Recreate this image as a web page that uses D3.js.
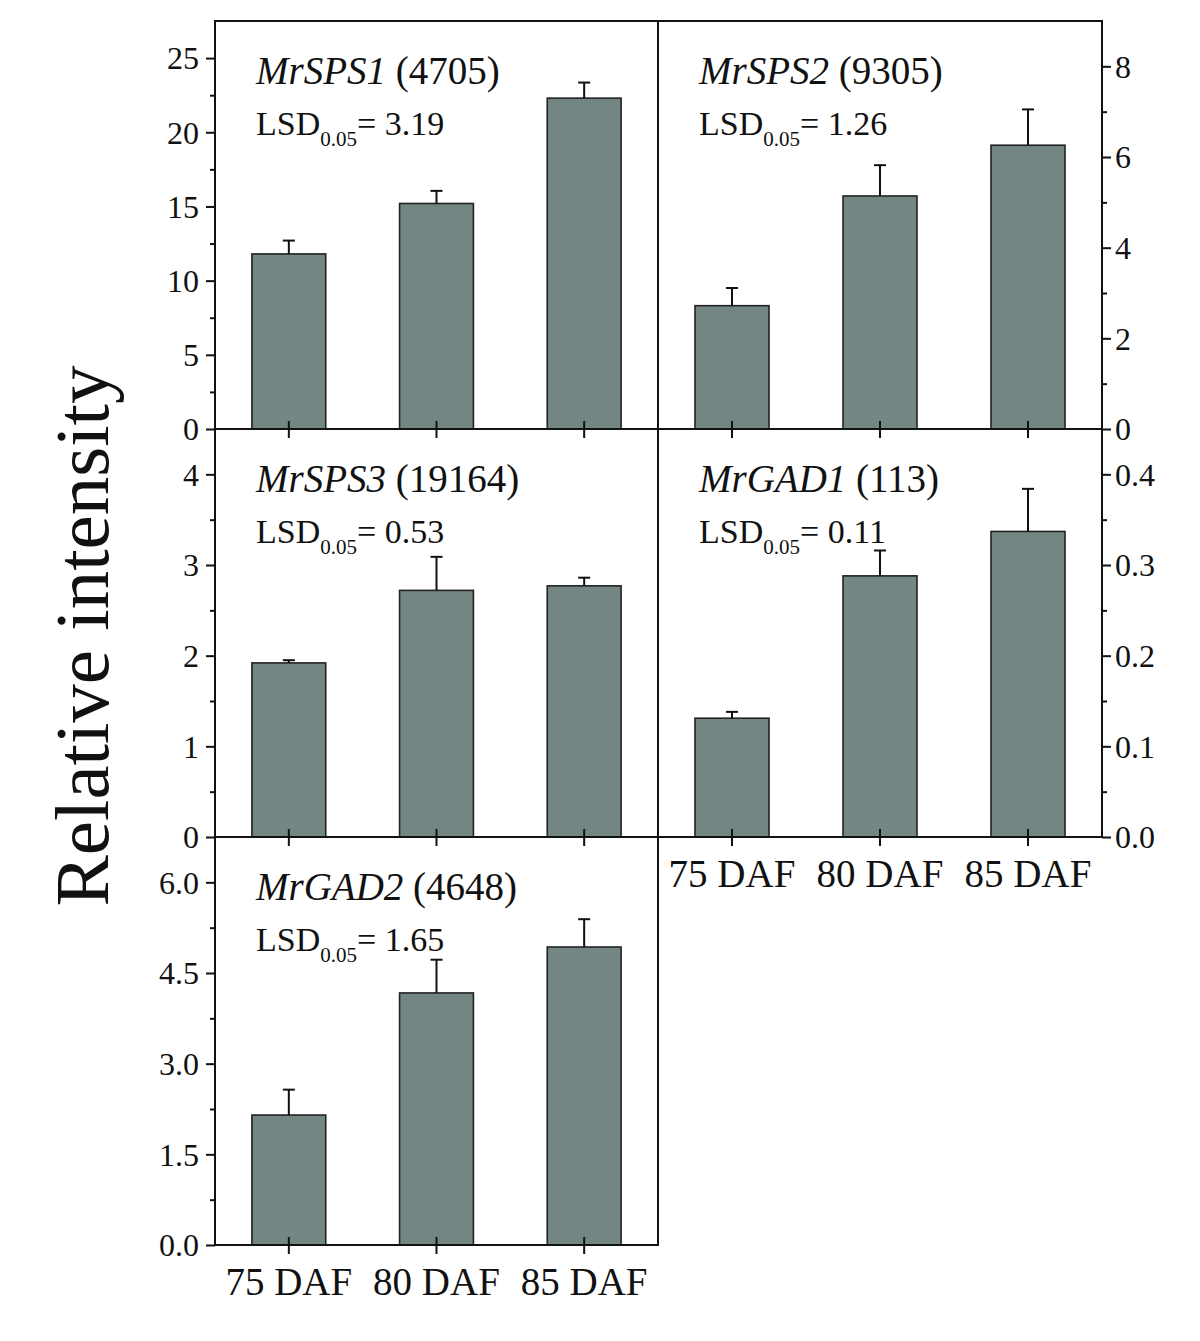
<!DOCTYPE html>
<html>
<head>
<meta charset="utf-8">
<script src="https://cdn.jsdelivr.net/npm/d3@7"></script>
<style>
  html, body { margin: 0; padding: 0; background: #fff; }
  svg text { font-family: "Liberation Serif", "Times New Roman", serif; fill: #111; }
</style>
</head>
<body>
<svg id="chart" width="1200" height="1341"></svg>
<script>
// ---- data ----
const categories = ["75 DAF", "80 DAF", "85 DAF"];
const genes = ["MrSPS1", "MrSPS2", "MrSPS3", "MrGAD1", "MrGAD2"];
const geneIds = ["4705", "9305", "19164", "113", "4648"];
const lsdValues = ["3.19", "1.26", "0.53", "0.11", "1.65"];

const sps1Mean = [11.8, 15.2, 22.3];
const sps1Err  = [0.9, 0.85, 1.05];
const sps2Mean = [2.72, 5.14, 6.26];
const sps2Err  = [0.39, 0.68, 0.79];
const sps3Mean = [1.92, 2.72, 2.77];
const sps3Err  = [0.03, 0.37, 0.09];
const gad1Mean = [0.131, 0.288, 0.337];
const gad1Err  = [0.007, 0.028, 0.047];
const gad2Mean = [2.15, 4.17, 4.93];
const gad2Err  = [0.42, 0.55, 0.46];

const yMaxes = [27.5, 9, 4.5, 0.45, 6.75];
const majorTicks = [
  [0, 5, 10, 15, 20, 25],
  [0, 2, 4, 6, 8],
  [0, 1, 2, 3, 4],
  [0, 0.1, 0.2, 0.3, 0.4],
  [0, 1.5, 3.0, 4.5, 6.0]
];
const minorTicks = [
  [2.5, 7.5, 12.5, 17.5, 22.5],
  [1, 3, 5, 7],
  [0.5, 1.5, 2.5, 3.5],
  [0.05, 0.15, 0.25, 0.35],
  [0.75, 2.25, 3.75, 5.25]
];
const tickFormats = [d3.format("d"), d3.format("d"), d3.format("d"), d3.format(".1f"), d3.format(".1f")];
const yLabel = "Relative intensity";

const means = [sps1Mean, sps2Mean, sps3Mean, gad1Mean, gad2Mean];
const errs  = [sps1Err, sps2Err, sps3Err, gad1Err, gad2Err];

// ---- layout ----
const colX = [[215, 658], [658, 1102]];
const rowY = [[21, 429], [429, 837], [837, 1245]];
const panels = [
  {col: 0, row: 0, side: "left",  xLabels: false},
  {col: 1, row: 0, side: "right", xLabels: false},
  {col: 0, row: 1, side: "left",  xLabels: false},
  {col: 1, row: 1, side: "right", xLabels: true},
  {col: 0, row: 2, side: "left",  xLabels: true}
];

const svg = d3.select("#chart");
const ink = "#111";
const barFill = "#748684";

panels.forEach((p, i) => {
  const [x0, x1] = colX[p.col];
  const [y0, y1] = rowY[p.row];
  const g = svg.append("g");

  const x = d3.scaleBand().domain(categories).range([x0, x1]).paddingInner(0.5).paddingOuter(0.25);
  const y = d3.scaleLinear().domain([0, yMaxes[i]]).range([y1, y0]);

  const data = categories.map((c, k) => ({c, v: means[i][k], e: errs[i][k]}));

  // bars
  g.selectAll("rect.bar").data(data).join("rect")
    .attr("class", "bar")
    .attr("x", d => x(d.c))
    .attr("y", d => y(d.v))
    .attr("width", x.bandwidth())
    .attr("height", d => y(0) - y(d.v))
    .attr("fill", barFill)
    .attr("stroke", "#222")
    .attr("stroke-width", 1.6);

  // error bars (upper only)
  const cx = d => x(d.c) + x.bandwidth() / 2;
  g.selectAll("line.err").data(data).join("line")
    .attr("x1", cx).attr("x2", cx)
    .attr("y1", d => y(d.v)).attr("y2", d => y(d.v + d.e))
    .attr("stroke", ink).attr("stroke-width", 2);
  g.selectAll("line.cap").data(data).join("line")
    .attr("x1", d => cx(d) - 6).attr("x2", d => cx(d) + 6)
    .attr("y1", d => y(d.v + d.e)).attr("y2", d => y(d.v + d.e))
    .attr("stroke", ink).attr("stroke-width", 2);

  // frame
  g.append("rect")
    .attr("x", x0).attr("y", y0).attr("width", x1 - x0).attr("height", y1 - y0)
    .attr("fill", "none").attr("stroke", ink).attr("stroke-width", 2);

  // y axis
  const axisX = p.side === "left" ? x0 : x1;
  const mkAxis = p.side === "left" ? d3.axisLeft : d3.axisRight;
  const yAxis = g.append("g").attr("transform", `translate(${axisX},0)`)
    .call(mkAxis(y).tickValues(majorTicks[i]).tickFormat(tickFormats[i]).tickSize(9).tickPadding(p.side === "left" ? 7 : 4));
  yAxis.select(".domain").remove();
  yAxis.selectAll("line").attr("stroke", ink).attr("stroke-width", 2);
  yAxis.selectAll("text").attr("font-size", 32).attr("fill", ink)
    .attr("font-family", "Liberation Serif, Times New Roman, serif").attr("dy", "0.34em");

  const yMinor = g.append("g").attr("transform", `translate(${axisX},0)`)
    .call(mkAxis(y).tickValues(minorTicks[i]).tickFormat("").tickSize(5));
  yMinor.select(".domain").remove();
  yMinor.selectAll("line").attr("stroke", ink).attr("stroke-width", 2);

  // x axis ticks crossing axis
  const xAxis = g.append("g").attr("transform", `translate(0,${y1})`)
    .call(d3.axisBottom(x).tickSize(9).tickPadding(13).tickFormat(p.xLabels ? (d => d) : ""));
  xAxis.select(".domain").remove();
  xAxis.selectAll("line").attr("y1", -8).attr("y2", 9).attr("stroke", ink).attr("stroke-width", 2);
  xAxis.selectAll("text").attr("font-size", 39).attr("fill", ink)
    .attr("font-family", "Liberation Serif, Times New Roman, serif").attr("dy", "0.72em");

  // title
  const tx = x0 + 41;
  const title = g.append("text").attr("x", tx).attr("y", y0 + 63).attr("font-size", 39);
  title.append("tspan").attr("font-style", "italic").text(genes[i]);
  title.append("tspan").text(" (" + geneIds[i] + ")");

  const lsd = g.append("text").attr("x", tx).attr("y", y0 + 114).attr("font-size", 34);
  lsd.append("tspan").text("LSD");
  lsd.append("tspan").attr("font-size", 21).attr("dy", 11).text("0.05");
  lsd.append("tspan").attr("dy", -11).text("= " + lsdValues[i]);
});

// y label
svg.append("text")
  .attr("transform", "translate(108,636) rotate(-90)")
  .attr("text-anchor", "middle")
  .attr("font-size", 77)
  .text(yLabel);
</script>
</body>
</html>
